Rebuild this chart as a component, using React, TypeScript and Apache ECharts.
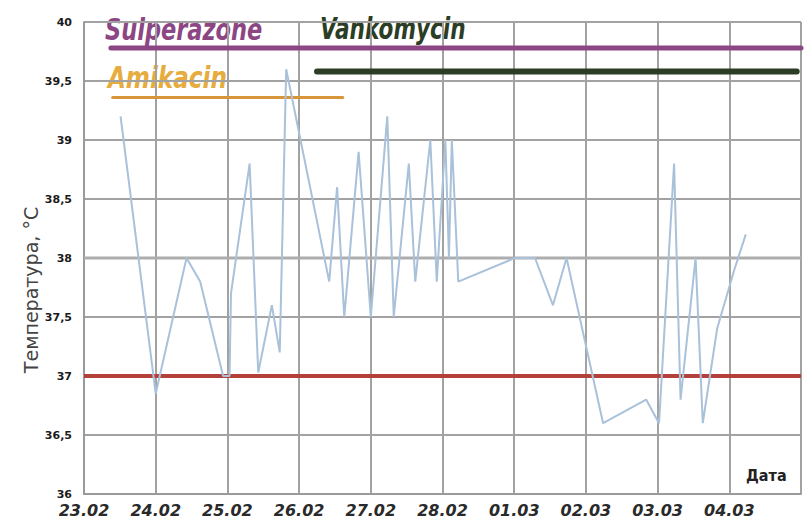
import React, { useEffect, useRef } from "react";
import * as echarts from "echarts";

// Time in days since 23.02 (00:00) and temperature, °C
const times = [0.51, 1.0, 1.43, 1.62, 1.94, 2.03, 2.05, 2.31, 2.43, 2.62, 2.73, 2.82, 3.42, 3.53, 3.63, 3.83, 4.0, 4.23, 4.32, 4.53, 4.62, 4.83, 4.92, 5.04, 5.09, 5.13, 5.22, 6.01, 6.29, 6.54, 6.73, 7.24, 7.84, 8.02, 8.23, 8.32, 8.53, 8.63, 8.83, 9.07, 9.23];
const temps = [39.2, 36.85, 38.0, 37.8, 37.0, 37.0, 37.7, 38.8, 37.03, 37.6, 37.2, 39.6, 37.8, 38.6, 37.5, 38.9, 37.5, 39.2, 37.5, 38.8, 37.8, 39.0, 37.8, 39.0, 38.0, 39.0, 37.8, 38.0, 38.0, 37.6, 38.0, 36.6, 36.8, 36.6, 38.8, 36.8, 38.0, 36.6, 37.4, 37.9, 38.2];

const dateLabels = ["23.02", "24.02", "25.02", "26.02", "27.02", "28.02", "01.03", "02.03", "03.03", "04.03"];
const yTicks = [36, 36.5, 37, 37.5, 38, 38.5, 39, 39.5, 40];

// Treatment periods: [start day, end day, level on the temperature scale]
const drugNames = ["Sulperazone", "Vankomycin", "Amikacin"];
const drugStart = [0.375, 3.25, 0.4];
const drugEnd = [10, 9.94, 3.61];
const drugLevel = [39.78, 39.58, 39.36];
const drugColors = ["#8c4683", "#2c3d25", "#d8963a"];
const drugWidths = [5, 6, 3];
const normalTemp = 37;

export default function App() {
  const ref = useRef<HTMLDivElement>(null);
  useEffect(() => {
    document.body.style.margin = "0";
    const chart = echarts.init(ref.current!, null, { renderer: "svg" });
    const font = "'DejaVu Sans', sans-serif";
    const drugSeries = drugNames.map((n, i) => ({
      type: "line",
      name: n,
      data: [
        [drugStart[i], drugLevel[i]],
        [drugEnd[i], drugLevel[i]],
      ],
      symbol: "none",
      lineStyle: { color: drugColors[i], width: drugWidths[i], cap: "round" },
      z: 3,
    }));
    chart.setOption({
      animation: false,
      backgroundColor: "#ffffff",
      grid: { left: 84, right: 0, top: 22, bottom: 31 },
      xAxis: {
        type: "value",
        min: 0,
        max: 10,
        interval: 1,
        axisLine: { show: true, lineStyle: { color: "#9a9a9a", width: 2 } },
        axisTick: { show: false },
        splitLine: { show: true, lineStyle: { color: "#a2a2a2", width: 2 } },
        axisLabel: {
          formatter: (v: number) => dateLabels[Math.round(v)] ?? "",
          color: "#2a2a2a",
          fontFamily: font,
          fontStyle: "italic",
          fontWeight: "bold",
          fontSize: 16,
          margin: 8,
        },
      },
      yAxis: {
        type: "value",
        min: yTicks[0],
        max: yTicks[yTicks.length - 1],
        interval: 0.5,
        axisLine: { show: true, lineStyle: { color: "#9a9a9a", width: 2 } },
        axisTick: { show: false },
        splitLine: { show: true, lineStyle: { color: "#a2a2a2", width: 2 } },
        axisLabel: {
          formatter: (v: number) => String(v).replace(".", ","),
          color: "#1a1a1a",
          fontFamily: font,
          fontWeight: "bold",
          fontSize: 11,
          margin: 12,
        },
      },
      series: [
        {
          type: "line",
          name: "38",
          data: [
            [0, 38],
            [10, 38],
          ],
          symbol: "none",
          lineStyle: { color: "#adadad", width: 3 },
          z: 1,
        },
        {
          type: "line",
          name: "norm",
          data: [
            [0, normalTemp],
            [10, normalTemp],
          ],
          symbol: "none",
          lineStyle: { color: "#b4403a", width: 4 },
          z: 2,
        },
        {
          type: "line",
          name: "t",
          data: times.map((t, i) => [t, temps[i]]),
          symbol: "none",
          lineStyle: { color: "#a9c1d9", width: 2 },
          z: 4,
        },
        ...drugSeries,
      ],
      graphic: [
        {
          type: "text",
          x: 105,
          y: 44,
          scaleX: 0.75,
          style: {
            text: drugNames[0],
            fill: drugColors[0],
            font: `italic bold 30px ${font}`,
            verticalAlign: "bottom",
          },
        },
        {
          type: "text",
          x: 320,
          y: 44,
          scaleX: 0.72,
          style: {
            text: drugNames[1],
            fill: drugColors[1],
            font: `italic bold 30px ${font}`,
            verticalAlign: "bottom",
          },
        },
        {
          type: "text",
          x: 108,
          y: 92,
          scaleX: 0.77,
          style: {
            text: drugNames[2],
            fill: "#e6ac3e",
            font: `italic bold 30px ${font}`,
            verticalAlign: "bottom",
          },
        },
        {
          type: "text",
          x: 31,
          y: 290,
          rotation: Math.PI / 2,
          style: {
            text: "Температура, °C",
            fill: "#444",
            font: `19px ${font}`,
            align: "center",
            verticalAlign: "middle",
          },
        },
        {
          type: "text",
          x: 746,
          y: 476,
          scaleX: 0.9,
          style: {
            text: "Дата",
            fill: "#222",
            font: `bold 16px ${font}`,
            verticalAlign: "middle",
          },
        },
      ],
    });
    return () => chart.dispose();
  }, []);
  return <div ref={ref} style={{ width: 804, height: 525 }} />;
}
